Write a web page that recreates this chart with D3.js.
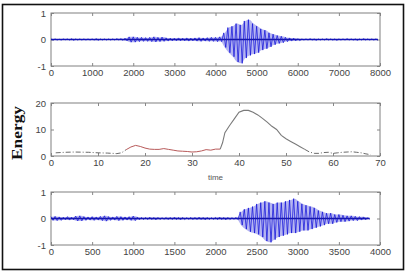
<!DOCTYPE html>
<html>
<head>
<meta charset="utf-8">
<script src="https://cdn.jsdelivr.net/npm/d3@7"></script>
<style>
  body { margin: 0; background: #fff; }
  .axis text { font-family: "Liberation Sans", Arial, sans-serif; font-size: 9.5px; fill: #444; }
  .axis path { display: none; }
  .axis line { stroke: #888; }
</style>
</head>
<body>
<div id="chart"></div>
<script>
// ---- data ----

// top waveform: envelope per 100 samples (0 .. 7900)
let wave1Step = 100;
let wave1Hi = [0.02, 0.02, 0.01, 0.02, 0.02, 0.03, 0.02, 0.02, 0.02, 0.02,
               0.02, 0.03, 0.02, 0.02, 0.02, 0.02, 0.03, 0.03, 0.05, 0.10,
               0.10, 0.08, 0.08, 0.07, 0.08, 0.10, 0.08, 0.09, 0.06, 0.05,
               0.05, 0.06, 0.05, 0.06, 0.05, 0.06, 0.07, 0.06, 0.07, 0.08,
               0.08, 0.10, 0.25, 0.45, 0.50, 0.60, 0.55, 0.70, 0.75, 0.60,
               0.50, 0.40, 0.35, 0.25, 0.20, 0.15, 0.12, 0.08, 0.06, 0.05,
               0.03, 0.02, 0.02, 0.03, 0.02, 0.02, 0.02, 0.03, 0.02, 0.02,
               0.02, 0.02, 0.03, 0.02, 0.02, 0.02, 0.03, 0.02, 0.02, 0.02];
let wave1Lo = [-0.02, -0.02, -0.02, -0.01, -0.02, -0.03, -0.02, -0.02, -0.02, -0.02,
               -0.02, -0.03, -0.02, -0.02, -0.02, -0.02, -0.02, -0.03, -0.05, -0.10,
               -0.10, -0.08, -0.07, -0.07, -0.08, -0.09, -0.08, -0.07, -0.06, -0.05,
               -0.05, -0.05, -0.05, -0.06, -0.05, -0.06, -0.07, -0.06, -0.07, -0.07,
               -0.08, -0.08, -0.30, -0.50, -0.65, -0.85, -0.90, -0.70, -0.60, -0.55,
               -0.50, -0.40, -0.35, -0.28, -0.20, -0.15, -0.12, -0.08, -0.06, -0.05,
               -0.04, -0.02, -0.02, -0.02, -0.03, -0.02, -0.02, -0.02, -0.02, -0.03,
               -0.02, -0.02, -0.02, -0.02, -0.03, -0.02, -0.02, -0.02, -0.02, -0.02];

// bottom waveform: envelope per 50 samples (0 .. 3850)
let wave3Step = 50;
let wave3Hi = [0.07, 0.08, 0.06, 0.05, 0.07, 0.05, 0.09, 0.10, 0.07, 0.06,
               0.07, 0.06, 0.08, 0.10, 0.07, 0.06, 0.08, 0.07, 0.06, 0.07,
               0.09, 0.05, 0.04, 0.04, 0.05, 0.04, 0.04, 0.03, 0.04, 0.04,
               0.05, 0.04, 0.04, 0.03, 0.04, 0.04, 0.05, 0.04, 0.04, 0.03,
               0.04, 0.05, 0.04, 0.04, 0.03, 0.04, 0.25, 0.35, 0.40, 0.45,
               0.55, 0.60, 0.65, 0.60, 0.55, 0.60, 0.60, 0.65, 0.70, 0.75,
               0.65, 0.55, 0.50, 0.45, 0.40, 0.30, 0.25, 0.20, 0.20, 0.15,
               0.15, 0.12, 0.10, 0.10, 0.08, 0.07, 0.06, 0.03];
let wave3Lo = [-0.07, -0.08, -0.07, -0.05, -0.06, -0.05, -0.09, -0.09, -0.07, -0.06,
               -0.07, -0.06, -0.08, -0.10, -0.07, -0.06, -0.08, -0.07, -0.06, -0.07,
               -0.08, -0.05, -0.04, -0.04, -0.04, -0.05, -0.04, -0.03, -0.04, -0.04,
               -0.04, -0.05, -0.04, -0.03, -0.04, -0.04, -0.04, -0.05, -0.04, -0.03,
               -0.04, -0.04, -0.05, -0.04, -0.03, -0.04, -0.25, -0.40, -0.50, -0.55,
               -0.60, -0.70, -0.85, -0.90, -0.80, -0.70, -0.65, -0.60, -0.55, -0.55,
               -0.50, -0.45, -0.45, -0.40, -0.35, -0.30, -0.25, -0.20, -0.20, -0.15,
               -0.12, -0.12, -0.10, -0.08, -0.08, -0.06, -0.05, -0.03];

// middle: short-time energy
let energyT = [1, 3, 5, 8, 10, 12, 14, 15, 16, 17, 18, 19, 20, 21, 22, 23, 24, 25, 26, 27,
               28, 29, 30, 31, 32, 33, 34, 35, 36, 36.5, 37, 38, 39, 40, 41, 42, 43, 44, 45, 46,
               47, 48, 49, 50, 51, 52, 53, 54, 55, 56, 57, 58, 59, 60, 61, 62, 63, 64, 65, 66,
               67, 68];
let energyV = [1.2, 1.4, 1.5, 1.4, 1.2, 1.1, 0.9, 1.2, 2.4, 3.4, 4.0, 3.6, 3.0, 2.6, 2.5, 2.5, 2.8, 2.5, 2.2, 1.9,
               1.8, 1.7, 1.5, 1.6, 1.9, 2.4, 2.2, 2.6, 2.6, 5.0, 8.8, 11.5, 14.0, 16.5, 17.2, 17.2, 16.5, 15.5, 14.2, 12.8,
               11.2, 10.0, 7.8, 6.5, 5.5, 4.5, 3.5, 2.5, 1.5, 1.0, 1.0, 1.3, 1.4, 1.0, 1.2, 1.4, 1.5, 1.6, 1.4, 1.2,
               0.8, 0.5];
let segmentBreaks = [16, 36, 54];
let segmentKind = ["silence", "unvoiced", "voiced", "silence"];

let ticks1X = d3.range(0, 8001, 1000);
let ticks2X = d3.range(0, 71, 10);
let ticks3X = d3.range(0, 4001, 500);
let ticksWaveY = [-1, 0, 1];
let ticksEnergyY = [0, 10, 20];

// ---- drawing ----
const W = 409, H = 272;
const left = 51, right = 380, panelH = 53;
const plain = d => String(d);   // "1000", "-1" like matlab

const svg = d3.select("#chart").append("svg")
    .attr("width", W)
    .attr("height", H);

svg.append("rect")
    .attr("width", W).attr("height", H)
    .attr("fill", "#fff");

// outer frame
svg.append("rect")
    .attr("x", 2.5).attr("y", 4.5)
    .attr("width", 401).attr("height", 265)
    .attr("fill", "none")
    .attr("stroke", "#111")
    .attr("stroke-width", 1.6);

function panel(top, xDomain, yDomain, xTicks, yTicks) {
    let g = svg.append("g").attr("transform", "translate(" + left + "," + top + ")");
    let x = d3.scaleLinear().domain(xDomain).range([0, right - left]);
    let y = d3.scaleLinear().domain(yDomain).range([panelH, 0]);

    g.append("g").attr("class", "axis")
        .attr("transform", "translate(0," + panelH + ")")
        .call(d3.axisBottom(x).tickValues(xTicks).tickSize(-3).tickPadding(3).tickFormat(plain));
    g.append("g").attr("class", "axis")
        .call(d3.axisTop(x).tickValues(xTicks).tickSize(-3).tickFormat(""));
    g.append("g").attr("class", "axis")
        .call(d3.axisLeft(y).tickValues(yTicks).tickSize(-3).tickPadding(5).tickFormat(plain));
    g.append("g").attr("class", "axis")
        .attr("transform", "translate(" + (right - left) + ",0)")
        .call(d3.axisRight(y).tickValues(yTicks).tickSize(-3).tickFormat(""));

    g.append("rect")
        .attr("width", right - left).attr("height", panelH)
        .attr("fill", "none")
        .attr("stroke", "#808080")
        .attr("stroke-width", 1);

    return { g: g, x: x, y: y };
}

// envelope fill plus a zig-zag between the upper and lower value of each bin
function drawWave(p, step, hi, lo) {
    let pts = [];
    hi.forEach((h, i) => {
        pts.push([i * step, h]);
        pts.push([i * step + step / 2, lo[i]]);
    });
    let line = d3.line()
        .x(d => p.x(d[0]))
        .y(d => p.y(d[1]));

    let area = d3.area()
        .x((d, i) => p.x(i * step + step / 4))
        .y0((d, i) => p.y(lo[i]))
        .y1(d => p.y(d))
        .curve(d3.curveMonotoneX);

    p.g.append("path")
        .datum(hi)
        .attr("fill", "#2a2ad8")
        .attr("fill-opacity", 0.35)
        .attr("d", area);

    p.g.append("line")
        .attr("x1", p.x(0)).attr("x2", p.x((hi.length - 1) * step + step / 2))
        .attr("y1", p.y(0)).attr("y2", p.y(0))
        .attr("stroke", "#1a1a9a")
        .attr("stroke-width", 1.4);

    p.g.append("path")
        .datum(pts)
        .attr("fill", "none")
        .attr("stroke", "#1010d8")
        .attr("stroke-width", 0.8)
        .attr("stroke-opacity", 0.9)
        .attr("d", line);
}

// top panel
let p1 = panel(13, [0, 8000], [-1, 1], ticks1X, ticksWaveY);
drawWave(p1, wave1Step, wave1Hi, wave1Lo);

// middle panel
let p2 = panel(103, [0, 70], [0, 20], ticks2X, ticksEnergyY);
let segStyle = {
    silence: { color: "#444", dash: "5,2,1,2", width: 0.8 },
    unvoiced: { color: "#b85a5a", dash: null, width: 1 },
    voiced: { color: "#7a7a7a", dash: null, width: 1.1 }
};
let bounds = [energyT[0]].concat(segmentBreaks, [energyT[energyT.length - 1]]);
let energyLine = d3.line()
    .x(d => p2.x(d[0]))
    .y(d => p2.y(d[1]));
segmentKind.forEach((kind, i) => {
    let seg = energyT.map((t, j) => [t, energyV[j]])
        .filter(d => d[0] >= bounds[i] && d[0] <= bounds[i + 1]);
    let s = segStyle[kind];
    p2.g.append("path")
        .datum(seg)
        .attr("fill", "none")
        .attr("stroke", s.color)
        .attr("stroke-width", s.width)
        .attr("stroke-dasharray", s.dash)
        .attr("d", energyLine);
});

svg.append("text")
    .attr("x", (left + right) / 2).attr("y", 180)
    .attr("text-anchor", "middle")
    .attr("font-family", "Liberation Sans, Arial, sans-serif")
    .attr("font-size", 8)
    .attr("fill", "#555")
    .text("time");

svg.append("text")
    .attr("transform", "translate(22,133) rotate(-90)")
    .attr("text-anchor", "middle")
    .attr("font-family", "Liberation Serif, Times New Roman, serif")
    .attr("font-weight", "bold")
    .attr("font-size", 15)
    .attr("textLength", 54)
    .attr("lengthAdjust", "spacingAndGlyphs")
    .attr("fill", "#111")
    .text("Energy");

// bottom panel
let p3 = panel(192, [0, 4000], [-1, 1], ticks3X, ticksWaveY);
drawWave(p3, wave3Step, wave3Hi, wave3Lo);
</script>
</body>
</html>
